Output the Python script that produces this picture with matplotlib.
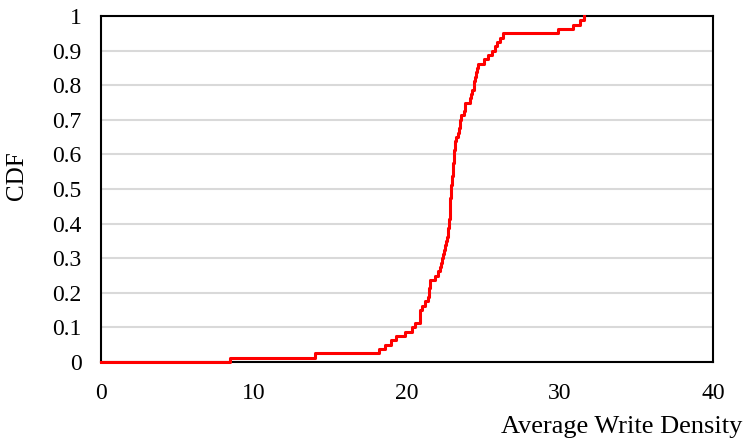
import numpy as np
import matplotlib
matplotlib.use('Agg')
import matplotlib.pyplot as plt

# =============================================================================
# DATA (sorted sample values, read off the reference CDF, n = 80)
# =============================================================================

write_density = [
    8.4, 14.0, 18.15, 18.55, 18.95, 19.3, 19.9, 20.3, 20.5, 20.85,
    20.85, 20.85, 21.0, 21.2, 21.4, 21.45, 21.45, 21.5, 21.5, 21.85,
    22.0, 22.15, 22.2, 22.28, 22.35, 22.42, 22.5, 22.58, 22.62, 22.66,
    22.7, 22.73, 22.76, 22.78, 22.8, 22.82, 22.83, 22.84, 22.85, 22.87,
    22.9, 22.93, 22.96, 22.99, 23.01, 23.03, 23.05, 23.06, 23.07, 23.12,
    23.16, 23.2, 23.3, 23.4, 23.44, 23.46, 23.5, 23.72, 23.76, 23.8,
    24.1, 24.2, 24.28, 24.35, 24.4, 24.45, 24.5, 24.55, 24.66, 25.05,
    25.3, 25.55, 25.75, 25.9, 26.05, 26.25, 29.9, 30.85, 31.3, 31.55,
]

x_ticks = [0, 10, 20, 30, 40]
y_ticks = [0, 0.1, 0.2, 0.3, 0.4, 0.5, 0.6, 0.7, 0.8, 0.9, 1]
y_tick_labels = ['0', '0.1', '0.2', '0.3', '0.4', '0.5', '0.6', '0.7', '0.8', '0.9', '1']

# =============================================================================
# PLOT
# =============================================================================

plt.rcParams['font.family'] = ['Liberation Serif', 'DejaVu Serif']

values = np.sort(np.asarray(write_density))
cdf = np.arange(1, len(values) + 1) / len(values)
xs = np.concatenate([[0.0], values])
ys = np.concatenate([[0.0], cdf])

fig = plt.figure(figsize=(7.49, 4.45), dpi=100)
ax = fig.add_axes([0.1348, 0.1865, 0.8172, 0.7775])

ax.plot(xs, ys, drawstyle='steps-post', color='#ff0000', linewidth=2.2,
        clip_on=False, zorder=5)

ax.set_xlim(0, 40)
ax.set_ylim(0, 1)
ax.set_xticks(x_ticks)
ax.set_yticks(y_ticks)
ax.set_yticklabels(y_tick_labels)
ax.tick_params(axis='both', length=0, labelsize=17, colors='black')
ax.tick_params(axis='x', pad=15)
ax.tick_params(axis='y', pad=14)

ax.grid(axis='y', color='#d9d9d9', linewidth=1.5)
ax.set_axisbelow(True)
for spine in ax.spines.values():
    spine.set_color('black')
    spine.set_linewidth(1.5)

fig.text(17.5 / 749, 1 - 176 / 445, 'CDF', fontsize=18, rotation=90,
         ha='center', va='center')
fig.text(742 / 749, 1 - 427 / 445, 'Average Write Density', fontsize=19,
         ha='right', va='center')

fig.savefig('out.png', dpi=100)
